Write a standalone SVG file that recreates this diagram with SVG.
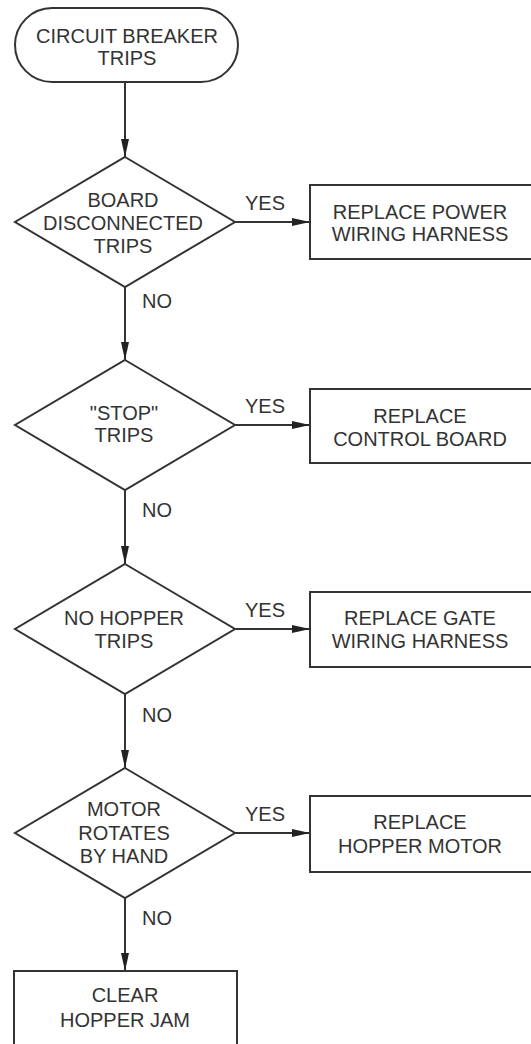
<svg xmlns="http://www.w3.org/2000/svg" width="531" height="1044" viewBox="0 0 531 1044">
<style>
.s{fill:#fff;stroke:#333;stroke-width:2}
.t{font-family:"Liberation Sans",Arial,sans-serif;font-size:20px;fill:#333;text-anchor:middle}
.l{font-family:"Liberation Sans",Arial,sans-serif;font-size:20px;fill:#333}
.c{stroke:#333;stroke-width:2;fill:none;marker-end:url(#a)}
</style>
<defs>
<marker id="a" markerWidth="18" markerHeight="8" refX="18" refY="4" orient="auto" markerUnits="userSpaceOnUse">
<path d="M0,0 L18,4 L0,8 Z" fill="#222"/>
</marker>
</defs>
<rect width="531" height="1044" fill="#fff"/>
<g id="connectors">
<line class="c" x1="125" y1="82" x2="125" y2="157"/>
<line class="c" x1="125" y1="287" x2="125" y2="360"/>
<line class="c" x1="125" y1="490" x2="125" y2="564"/>
<line class="c" x1="125" y1="694" x2="125" y2="768"/>
<line class="c" x1="125" y1="898" x2="125" y2="971"/>
<line class="c" x1="235" y1="222" x2="310" y2="222"/>
<line class="c" x1="235" y1="425" x2="310" y2="425"/>
<line class="c" x1="235" y1="629" x2="310" y2="629"/>
<line class="c" x1="235" y1="833" x2="310" y2="833"/>
<text class="t" x="265" y="210">YES</text>
<text class="t" x="265" y="413">YES</text>
<text class="t" x="265" y="617">YES</text>
<text class="t" x="265" y="821">YES</text>
<text class="l" x="142" y="308">NO</text>
<text class="l" x="142" y="517">NO</text>
<text class="l" x="142" y="722">NO</text>
<text class="l" x="142" y="925">NO</text>
</g>
<g id="start">
<rect class="s" x="15" y="8" width="223" height="74" rx="37" ry="37"/>
<text class="t" x="127" y="43">CIRCUIT BREAKER</text>
<text class="t" x="127" y="65">TRIPS</text>
</g>
<g id="d1">
<polygon class="s" points="125,157 235,222 125,287 15,222"/>
<text class="t" x="123" y="207">BOARD</text>
<text class="t" x="123" y="230">DISCONNECTED</text>
<text class="t" x="123" y="253">TRIPS</text>
</g>
<g id="b1">
<rect class="s" x="310" y="185" width="240" height="74"/>
<text class="t" x="420" y="219">REPLACE POWER</text>
<text class="t" x="420" y="241">WIRING HARNESS</text>
</g>
<g id="d2">
<polygon class="s" points="125,360 235,425 125,490 15,425"/>
<text class="t" x="124" y="420">"STOP"</text>
<text class="t" x="124" y="442">TRIPS</text>
</g>
<g id="b2">
<rect class="s" x="310" y="389" width="240" height="74"/>
<text class="t" x="420" y="423">REPLACE</text>
<text class="t" x="420" y="446">CONTROL BOARD</text>
</g>
<g id="d3">
<polygon class="s" points="125,564 235,629 125,694 15,629"/>
<text class="t" x="124" y="625">NO HOPPER</text>
<text class="t" x="124" y="648">TRIPS</text>
</g>
<g id="b3">
<rect class="s" x="310" y="592" width="240" height="75"/>
<text class="t" x="420" y="625">REPLACE GATE</text>
<text class="t" x="420" y="648">WIRING HARNESS</text>
</g>
<g id="d4">
<polygon class="s" points="125,768 235,833 125,898 15,833"/>
<text class="t" x="124" y="816">MOTOR</text>
<text class="t" x="124" y="840">ROTATES</text>
<text class="t" x="124" y="863">BY HAND</text>
</g>
<g id="b4">
<rect class="s" x="310" y="796" width="240" height="76"/>
<text class="t" x="420" y="829">REPLACE</text>
<text class="t" x="420" y="853">HOPPER MOTOR</text>
</g>
<g id="b5">
<rect class="s" x="14" y="971" width="223" height="90"/>
<text class="t" x="125" y="1002">CLEAR</text>
<text class="t" x="125" y="1027">HOPPER JAM</text>
</g>
</svg>
